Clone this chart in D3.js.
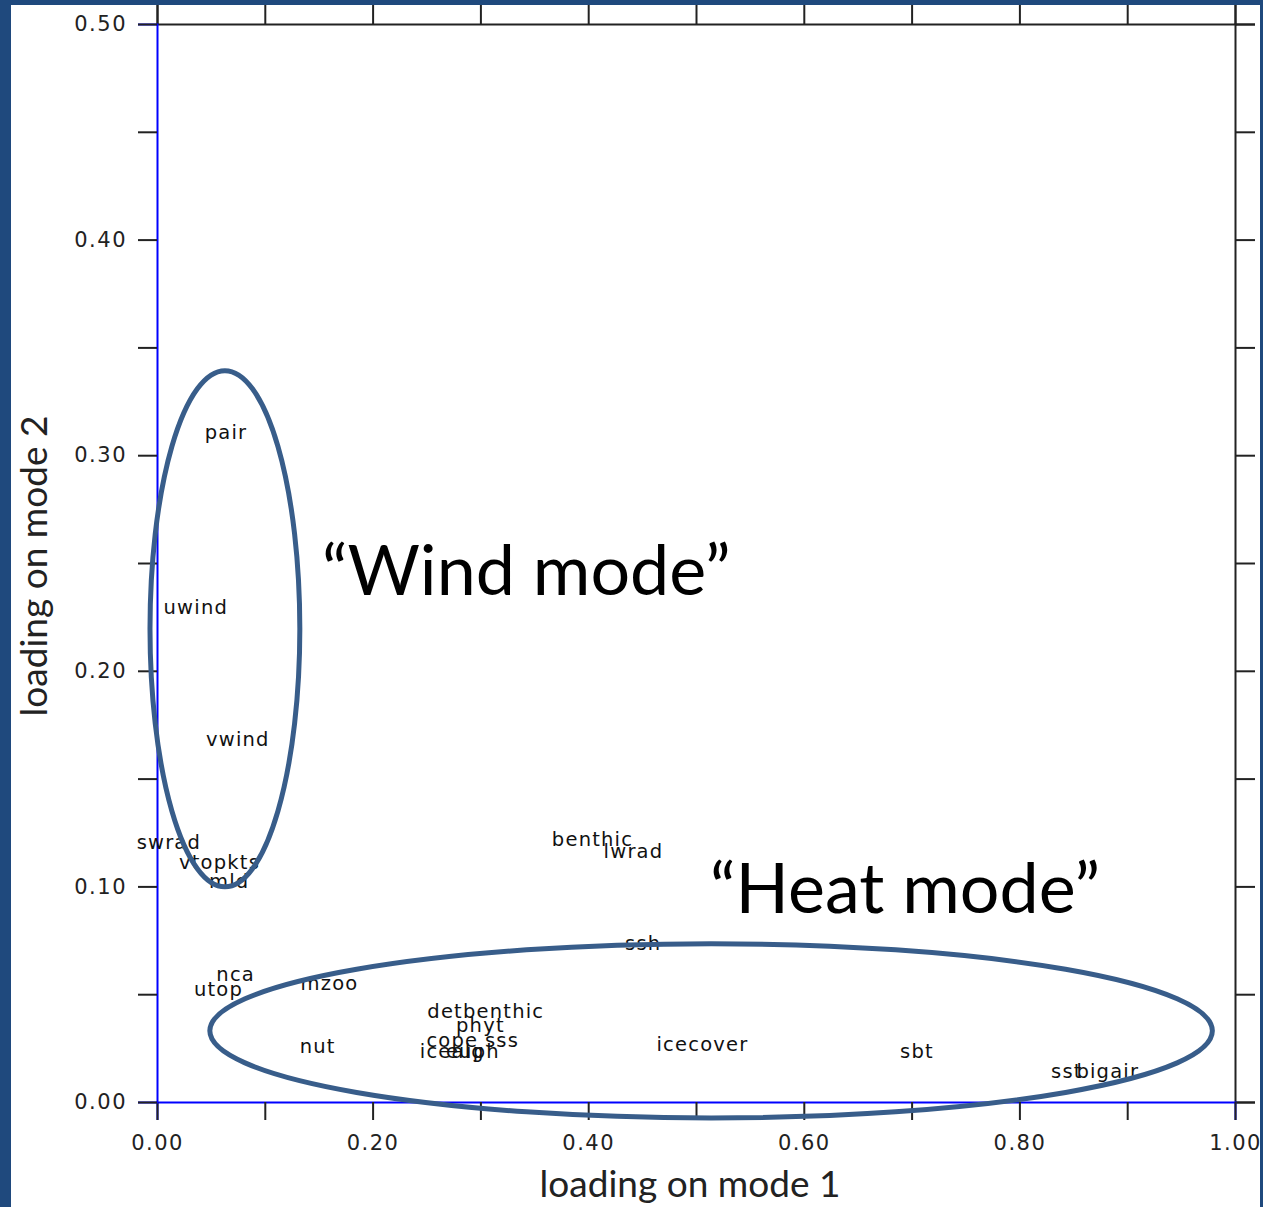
<!DOCTYPE html>
<html>
<head>
<meta charset="utf-8">
<script src="https://cdn.jsdelivr.net/npm/d3@7"></script>
<style>
  html, body { margin: 0; padding: 0; background: #1f497d; }
  svg { display: block; }
</style>
</head>
<body>
<div id="chart"></div>
<script>
// variable names and their loadings on the two modes
var names = ["pair", "uwind", "vwind", "swrad", "vtopkts", "mld",
             "benthic", "lwrad", "ssh", "nca", "utop", "mzoo",
             "detbenthic", "phyt", "cope", "sss", "icealg", "euph",
             "nut", "icecover", "sbt", "sst", "bigair"];
var mode1 = [0.064, 0.036, 0.075, 0.011, 0.058, 0.067,
             0.404, 0.442, 0.451, 0.073, 0.057, 0.160,
             0.305, 0.300, 0.274, 0.320, 0.274, 0.293,
             0.149, 0.506, 0.705, 0.844, 0.882];
var mode2 = [0.310, 0.229, 0.168, 0.120, 0.111, 0.102,
             0.1215, 0.116, 0.073, 0.059, 0.052, 0.0547,
             0.0417, 0.035, 0.028, 0.028, 0.023, 0.023,
             0.0255, 0.0264, 0.023, 0.014, 0.014];

var xTicks = [0, 0.2, 0.4, 0.6, 0.8, 1.0];
var yTicks = [0, 0.1, 0.2, 0.3, 0.4, 0.5];

// annotation groups (ellipses drawn over the plot)
var groups = ["“Wind mode”", "“Heat mode”"];

var W = 1263, H = 1207;
var svg = d3.select("#chart").append("svg")
    .attr("width", W)
    .attr("height", H);

// white slide panel inside dark blue border
svg.append("rect")
    .attr("x", 11).attr("y", 5)
    .attr("width", 1249).attr("height", H - 5)
    .attr("fill", "#ffffff");

var x = d3.scaleLinear().domain([0, 1]).range([157, 1235]);
var y = d3.scaleLinear().domain([0, 0.5]).range([1102, 24]);

var labelFont = "'DejaVu Sans', sans-serif";

// frame: top and right in black, with outward ticks
svg.append("g")
    .attr("transform", "translate(0," + y(0.5) + ")")
    .call(d3.axisTop(x).tickValues(d3.range(0, 1.001, 0.1)).tickSize(19).tickFormat(""))
    .call(function(g) {
      g.select(".domain").attr("stroke", "#222").attr("stroke-width", 2);
      g.selectAll(".tick line").attr("stroke", "#222").attr("stroke-width", 2);
    });

svg.append("g")
    .attr("transform", "translate(" + x(1) + ",0)")
    .call(d3.axisRight(y).tickValues(d3.range(0, 0.5001, 0.05)).tickSize(20).tickFormat(""))
    .call(function(g) {
      g.select(".domain").attr("stroke", "#222").attr("stroke-width", 2);
      g.selectAll(".tick line").attr("stroke", "#222").attr("stroke-width", 2);
    });

// bottom axis
var xAxis = svg.append("g")
    .attr("transform", "translate(0," + y(0) + ")")
    .call(d3.axisBottom(x).tickValues(d3.range(0, 1.001, 0.1)).tickSize(18)
      .tickFormat(function(d) {
        var hit = xTicks.some(function(t) { return Math.abs(t - d) < 1e-6; });
        return hit ? d3.format(".2f")(d) : "";
      }));
xAxis.select(".domain").attr("stroke", "#0000ff").attr("stroke-width", 2);
xAxis.selectAll(".tick line").attr("stroke", "#222").attr("stroke-width", 2);
xAxis.selectAll(".tick text")
    .attr("y", 33).attr("dy", "0.71em")
    .attr("fill", "#222")
    .style("font-family", labelFont)
    .style("font-size", "21px")
    .style("letter-spacing", "1.5px");

// left axis
var yAxis = svg.append("g")
    .attr("transform", "translate(" + x(0) + ",0)")
    .call(d3.axisLeft(y).tickValues(d3.range(0, 0.5001, 0.05)).tickSize(19)
      .tickFormat(function(d) {
        var hit = yTicks.some(function(t) { return Math.abs(t - d) < 1e-6; });
        return hit ? d3.format(".2f")(d) : "";
      }));
yAxis.select(".domain").attr("stroke", "#0000ff").attr("stroke-width", 2);
yAxis.selectAll(".tick line").attr("stroke", "#222").attr("stroke-width", 2);
yAxis.selectAll(".tick text")
    .attr("x", -30)
    .attr("fill", "#222")
    .style("font-family", labelFont)
    .style("font-size", "21px")
    .style("letter-spacing", "1.5px");

// variable labels, centred on their loadings
svg.append("g").selectAll("text")
    .data(names)
    .join("text")
    .attr("x", function(d, i) { return x(mode1[i]); })
    .attr("y", function(d, i) { return y(mode2[i]); })
    .attr("dy", "0.3em")
    .attr("text-anchor", "middle")
    .style("font-family", labelFont)
    .style("font-size", "19.5px")
    .style("letter-spacing", "1.2px")
    .attr("fill", "#111")
    .text(function(d) { return d; });

// axis titles
var titleFont = "Lato, 'Open Sans', sans-serif";
svg.append("text")
    .attr("x", 690).attr("y", 1197)
    .attr("text-anchor", "middle")
    .style("font-family", titleFont)
    .style("font-size", "37px")
    .attr("fill", "#222")
    .text("loading on mode 1");

svg.append("text")
    .attr("transform", "translate(47,566) rotate(-90)")
    .attr("text-anchor", "middle")
    .style("font-family", titleFont)
    .style("font-size", "37px")
    .attr("fill", "#222")
    .text("loading on mode 2");

// ellipses around the two modes
var ellipses = [
  {cx: 0.063, cy: 0.2195, rx: 0.0695, ry: 0.1197},
  {cx: 0.514, cy: 0.0330, rx: 0.465, ry: 0.0404}
];
svg.append("g").selectAll("ellipse")
    .data(ellipses)
    .join("ellipse")
    .attr("cx", function(d) { return x(d.cx); })
    .attr("cy", function(d) { return y(d.cy); })
    .attr("rx", function(d) { return x(d.rx) - x(0); })
    .attr("ry", function(d) { return y(0) - y(d.ry); })
    .attr("fill", "none")
    .attr("stroke", "#385d8a")
    .attr("stroke-width", 5);

svg.append("g").selectAll("text")
    .data(groups)
    .join("text")
    .attr("x", function(d, i) { return [322, 710][i]; })
    .attr("y", function(d, i) { return [595, 913][i]; })
    .style("font-family", titleFont)
    .style("font-size", "70px")
    .attr("fill", "#000")
    .text(function(d) { return d; });

// right edge of the slide border sits over the last tick label
svg.append("rect")
    .attr("x", 1260).attr("y", 0)
    .attr("width", 3).attr("height", H)
    .attr("fill", "#1f497d");
</script>
</body>
</html>
